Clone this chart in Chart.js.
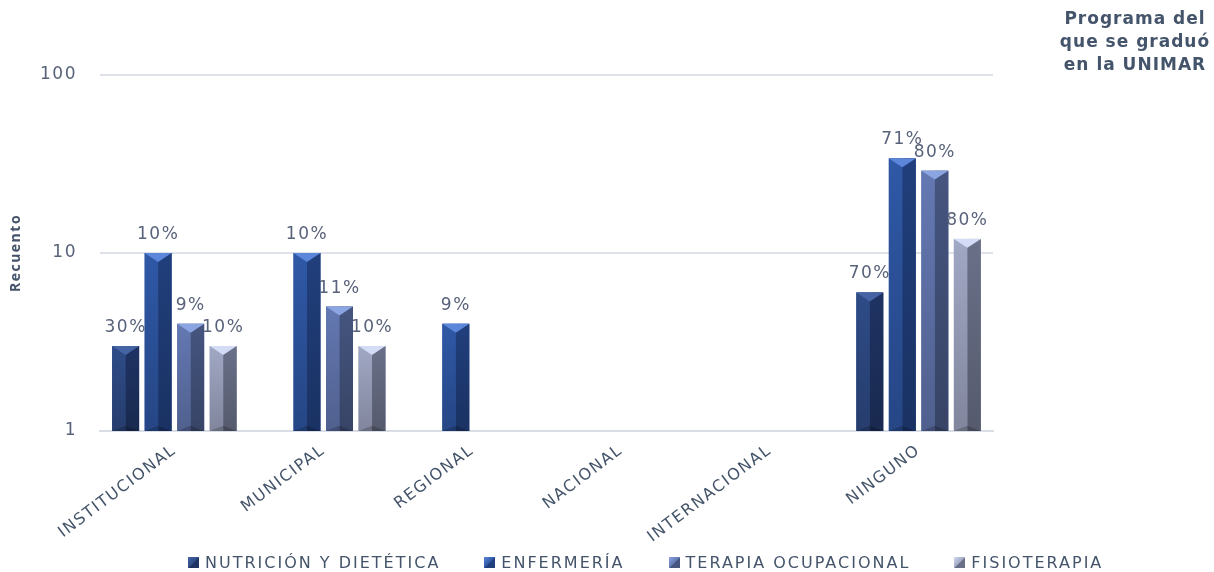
<!DOCTYPE html>
<html>
<head>
<meta charset="utf-8">
<script src="https://cdn.jsdelivr.net/npm/chart.js@4.4.1/dist/chart.umd.min.js"></script>
<style>
  html, body { margin: 0; padding: 0; background: #fff; }
  #wrap { position: relative; width: 1214px; height: 572px; }
  #title {
    position: absolute; left: 1035px; top: 7px; width: 200px;
    font: bold 17px "DejaVu Sans", sans-serif; color: #44546a;
    text-align: center; line-height: 23px; letter-spacing: 1px;
  }
  #legend {
    position: absolute; left: 188px; top: 553px; display: flex; gap: 44px;
    font: 16px "DejaVu Sans", sans-serif; color: #44546a; letter-spacing: 2px;
    line-height: 20px; white-space: nowrap;
  }
  #legend span.box {
    display: inline-block; width: 11px; height: 11px; margin-right: 6px;
    vertical-align: 0px;
  }
</style>
</head>
<body>
<div id="wrap">
  <canvas id="chart" width="1214" height="572"></canvas>
  <div id="title">Programa del<br>que se graduó<br>en la UNIMAR</div>
  <div id="legend"></div>
</div>
<script>
var categories = ['INSTITUCIONAL', 'MUNICIPAL', 'REGIONAL', 'NACIONAL', 'INTERNACIONAL', 'NINGUNO'];
var seriesNames = ['NUTRICIÓN Y DIETÉTICA', 'ENFERMERÍA', 'TERAPIA OCUPACIONAL', 'FISIOTERAPIA'];

var nutricion = [3, null, null, null, null, 6];
var enfermeria = [10, 10, 4, null, null, 34];
var terapia = [4, 5, null, null, null, 29];
var fisioterapia = [3, 3, null, null, null, 12];

// percent labels shown over the bars
var nutricionPct = ['30%', '', '', '', '', '70%'];
var enfermeriaPct = ['10%', '10%', '9%', '', '', '71%'];
var terapiaPct = ['9%', '11%', '', '', '', '80%'];
var fisioterapiaPct = ['10%', '10%', '', '', '', '80%'];

var yTicks = [1, 10, 100];

// left face, right face, top facet
var shades = [
  { left: '#2f4c88', right: '#1f3363', top: '#4564a4' },
  { left: '#2f58a6', right: '#213f7c', top: '#5c86da' },
  { left: '#6478b2', right: '#45557f', top: '#8ba5e3' },
  { left: '#a1a8c4', right: '#6a7088', top: '#d3dbf7' }
];

var values = [nutricion, enfermeria, terapia, fisioterapia];
var labels = [nutricionPct, enfermeriaPct, terapiaPct, fisioterapiaPct];

function shadeDown(hex) {
  var n = parseInt(hex.slice(1), 16);
  var r = Math.round(((n >> 16) & 255) * 0.8);
  var g = Math.round(((n >> 8) & 255) * 0.8);
  var b = Math.round((n & 255) * 0.8);
  return 'rgb(' + r + ',' + g + ',' + b + ')';
}

// wider text, the source picture is stretched sideways
// (canvas resize wipes the context state, so set it again before layout and draw)
var spacingPlugin = {
  id: 'spacing',
  beforeUpdate: function(chart) { chart.ctx.letterSpacing = '1.5px'; },
  beforeDraw: function(chart) { chart.ctx.letterSpacing = '1.5px'; }
};

var bevelPlugin = {
  id: 'bevel',
  afterDatasetsDraw: function(chart) {
    var ctx = chart.ctx;
    ctx.save();
    chart.data.datasets.forEach(function(ds, i) {
      var meta = chart.getDatasetMeta(i);
      var c = shades[i];
      meta.data.forEach(function(bar, j) {
        if (values[i][j] == null) return;
        var w = bar.width, x = bar.x, top = bar.y, base = bar.base;
        var l = x - w / 2, r = x + w / 2, d = w * 0.33;
        // left face
        var g = ctx.createLinearGradient(0, top, 0, base);
        g.addColorStop(0, c.left);
        g.addColorStop(1, shadeDown(c.left));
        ctx.fillStyle = g;
        ctx.fillRect(l, top, w / 2, base - top);
        // right face
        g = ctx.createLinearGradient(0, top, 0, base);
        g.addColorStop(0, c.right);
        g.addColorStop(1, shadeDown(c.right));
        ctx.fillStyle = g;
        ctx.fillRect(x, top, w / 2, base - top);
        // top facet
        ctx.fillStyle = c.top;
        ctx.beginPath();
        ctx.moveTo(l, top); ctx.lineTo(r, top); ctx.lineTo(x, top + d); ctx.closePath();
        ctx.fill();
        // bottom facet
        ctx.fillStyle = 'rgba(0,0,0,0.2)';
        ctx.beginPath();
        ctx.moveTo(l, base); ctx.lineTo(r, base); ctx.lineTo(x, base - d * 0.6); ctx.closePath();
        ctx.fill();
        // percent label
        var txt = labels[i][j];
        if (txt) {
          ctx.fillStyle = '#58627a';
          ctx.font = '17px "DejaVu Sans", sans-serif';
          ctx.textAlign = 'center';
          ctx.textBaseline = 'bottom';
          ctx.fillText(txt, x, top - 10);
        }
      });
    });
    ctx.restore();
  }
};

var datasets = seriesNames.map(function(name, i) {
  return {
    label: name,
    data: values[i],
    backgroundColor: shades[i].left,
    borderWidth: 0
  };
});

// legend as html
var legendEl = document.getElementById('legend');
seriesNames.forEach(function(name, i) {
  var item = document.createElement('span');
  var box = document.createElement('span');
  box.className = 'box';
  box.style.background = 'linear-gradient(135deg, ' + shades[i].top + ' 0%, ' + shades[i].left + ' 50%, ' + shades[i].right + ' 51%)';
  item.appendChild(box);
  item.appendChild(document.createTextNode(name));
  legendEl.appendChild(item);
});

new Chart(document.getElementById('chart'), {
  type: 'bar',
  data: { labels: categories, datasets: datasets },
  plugins: [spacingPlugin, bevelPlugin],
  options: {
    responsive: false,
    animation: false,
    layout: { padding: { top: 75, right: 221, left: 0, bottom: 0 } },
    datasets: { bar: { categoryPercentage: 0.874, barPercentage: 0.83 } },
    scales: {
      x: {
        grid: { display: false },
        border: { color: '#d9dde6', width: 2 },
        afterFit: function(s) { s.paddingLeft = 0; s.paddingRight = 0; s.height = 141; },
        ticks: {
          color: '#44546a',
          font: { family: 'DejaVu Sans', size: 16 },
          minRotation: 37, maxRotation: 37, padding: 2
        }
      },
      y: {
        type: 'logarithmic',
        min: 1, max: 100,
        afterBuildTicks: function(axis) {
          axis.ticks = yTicks.map(function(v) { return { value: v }; });
        },
        afterFit: function(s) { s.width = 100; },
        grid: { color: '#dfe2ea', lineWidth: 2, drawTicks: false },
        border: { display: false },
        ticks: {
          color: '#58627a',
          font: { family: 'DejaVu Sans', size: 17 },
          padding: 23,
          callback: function(v) { return String(v); }
        },
        title: {
          display: true, text: 'Recuento', color: '#44546a',
          font: { family: 'Open Sans', size: 14, weight: 'bold' },
          padding: { top: 8, bottom: 10 }
        }
      }
    },
    plugins: {
      legend: { display: false },
      tooltip: { enabled: false }
    }
  }
});
</script>
</body>
</html>
